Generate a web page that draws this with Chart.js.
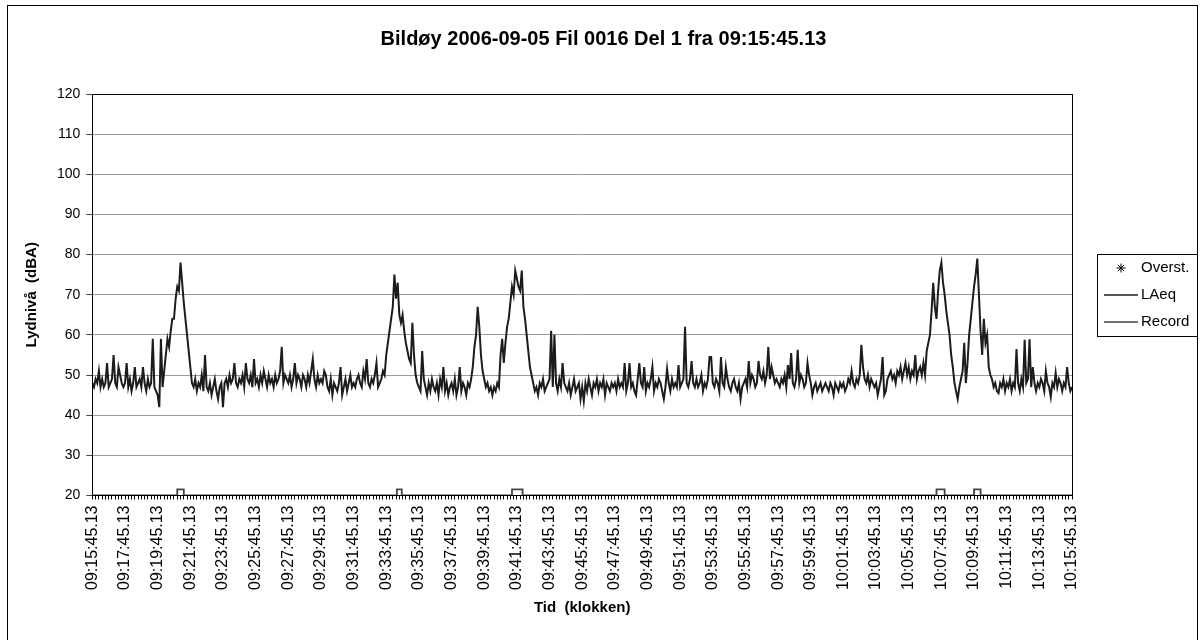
<!DOCTYPE html>
<html>
<head>
<meta charset="utf-8">
<script src="https://cdn.jsdelivr.net/npm/chart.js@4.4.0/dist/chart.umd.min.js"></script>
<style>
  html, body { margin: 0; padding: 0; background: #fff; }
  canvas { display: block; }
</style>
</head>
<body>
<canvas id="noiseChart" width="1202" height="640"></canvas>
<script>
const chartTitle = 'Bildøy 2006-09-05 Fil 0016 Del 1 fra 09:15:45.13';
const sampleStep = 6; // sekunder mellom LAeq-verdier

const timeLabels = [
    '09:15:45.13', '09:17:45.13', '09:19:45.13', '09:21:45.13', '09:23:45.13', '09:25:45.13',
    '09:27:45.13', '09:29:45.13', '09:31:45.13', '09:33:45.13', '09:35:45.13', '09:37:45.13',
    '09:39:45.13', '09:41:45.13', '09:43:45.13', '09:45:45.13', '09:47:45.13', '09:49:45.13',
    '09:51:45.13', '09:53:45.13', '09:55:45.13', '09:57:45.13', '09:59:45.13', '10:01:45.13',
    '10:03:45.13', '10:05:45.13', '10:07:45.13', '10:09:45.13', '10:11:45.13', '10:13:45.13',
    '10:15:45.13'
];

// LAeq, en verdi per 6 s (en rad per minutt)
const laeq = [
    48, 47, 49, 48, 51, 47, 49, 47, 48, 53,
    47, 48, 49, 55, 48, 47, 52, 50, 48, 47,
    48, 53, 47, 49, 46, 48, 52, 47, 48, 49,
    47, 52, 48, 46, 49, 47, 48, 59, 47, 46,
    45, 42, 59, 47, 51, 55, 59, 57, 61, 64,
    64, 69, 72, 71, 78, 73, 68, 64, 60, 56,
    52, 48, 47, 49, 46, 48, 47, 50, 46, 55,
    47, 46, 48, 45, 47, 49, 46, 44, 47, 48,
    42, 48, 49, 47, 50, 48, 49, 53, 48, 47,
    49, 48, 50, 47, 53, 49, 48, 50, 47, 54,
    48, 49, 47, 50, 48, 51, 49, 47, 50, 48,
    49, 47, 50, 48, 49, 51, 57, 48, 50, 49,
    48, 50, 47, 49, 53, 48, 50, 49, 47, 50,
    49, 47, 50, 48, 51, 54, 49, 47, 50, 48,
    49, 48, 51, 50, 47, 46, 49, 45, 48, 47,
    46, 48, 52, 45, 47, 49, 46, 48, 50, 47,
    48, 47, 49, 50, 48, 47, 51, 49, 54, 48,
    47, 49, 48, 50, 53, 47, 48, 49, 51, 50,
    55, 58, 61, 64, 67, 75, 69, 73, 65, 63,
    65, 61, 58, 56, 54, 53, 63, 55, 50, 48,
    47, 46, 56, 49, 47, 45, 48, 46, 49, 47,
    46, 48, 45, 49, 47, 52, 46, 48, 45, 47,
    48, 46, 49, 45, 47, 52, 46, 48, 47, 45,
    48, 47, 49, 52, 57, 60, 67, 62, 55, 51,
    49, 47, 48, 46, 47, 45, 47, 46, 48, 47,
    55, 59, 53, 58, 62, 64, 68, 72, 70, 76,
    74, 72, 71, 76, 67, 64, 60, 56, 52, 50,
    48, 46, 47, 45, 48, 47, 49, 46, 47, 48,
    49, 61, 47, 60, 48, 46, 49, 47, 53, 48,
    47, 46, 48, 45, 47, 49, 46, 47, 48, 44,
    47, 43.5, 48, 46, 49, 47, 45, 48, 47, 49,
    46, 48, 47, 49, 45, 48, 47, 46, 48, 47,
    48, 46, 49, 47, 48, 47, 53, 46, 48, 53,
    47, 48, 46, 45, 49, 53, 48, 47, 52, 46,
    48, 47, 49, 52, 46, 48, 47, 49, 48, 46,
    44, 47, 51.5, 48, 46, 49, 47, 48, 47, 52.5,
    47, 48, 49, 62, 48, 47, 49, 53.5, 48, 47,
    49, 47, 48, 50, 46, 48, 47, 49, 54.5, 54.5,
    48, 47, 49, 48, 46, 54.5, 48, 47, 52, 49,
    47, 46, 48, 49, 47, 46, 48, 44, 47, 48,
    49, 47, 53.5, 48, 50, 49, 47, 48, 53.5, 50,
    49, 51, 48, 50, 57, 49, 52, 50, 48, 49,
    48, 47, 49, 48, 50, 47, 52.5, 49, 55.5, 48,
    47, 49, 56.3, 48, 50, 49, 47, 48, 53, 50,
    48, 45, 47, 48, 46, 47, 48, 46, 47, 48,
    47, 46, 48, 47, 45, 48, 47, 46, 48, 47,
    48, 46, 47, 49, 48, 51, 48, 47, 49, 48,
    50, 57.5, 52, 49, 48, 50, 47, 49, 48, 47,
    48, 45, 47, 49, 54.5, 45, 46, 49, 50, 51,
    49, 50, 48, 51, 50, 52, 49, 51, 53, 50,
    52, 49, 51, 50, 55, 49, 51, 52, 50, 53,
    50, 56, 58, 60, 66, 73, 67, 64, 71, 76,
    78, 73, 70, 66, 63, 60, 55, 52, 48, 46,
    44, 47, 49, 51, 58, 48, 53, 60, 64, 68,
    72, 75, 79, 70, 61, 55, 64, 58, 60, 52,
    50, 49, 47, 48, 46, 45.5, 48, 47, 49, 46,
    48, 47, 49, 46, 48, 47, 56.5, 48, 46, 49,
    47, 58.8, 48, 49, 58.9, 47, 52, 48, 46, 48,
    47, 49, 48, 46, 51, 48, 47, 44.5, 48, 47,
    50.5, 47, 49, 48, 46, 48, 47, 52, 48, 46,
    47
];

// Record-pulser (sekunder fra start)
const recordStart = [312, 1119, 1542, 3102, 3240];
const recordEnd = [336, 1137, 1581, 3132, 3264];
const recordLow = 20;
const recordHigh = 21.5;

const overst = [];

const laeqPoints = laeq.map((v, i) => ({ x: i * sampleStep, y: v }));

const recordPoints = [{ x: 0, y: recordLow }];
recordStart.forEach((s, i) => {
    recordPoints.push(
        { x: s, y: recordLow },
        { x: s, y: recordHigh },
        { x: recordEnd[i], y: recordHigh },
        { x: recordEnd[i], y: recordLow }
    );
});
recordPoints.push({ x: 3600, y: recordLow });

const fontFamily = "'Liberation Sans', Arial, sans-serif";
Chart.defaults.font.family = fontFamily;
Chart.defaults.color = '#000';

const framePlugin = {
    id: 'frame',
    beforeDraw(chart) {
        const c = chart.ctx;
        c.save();
        c.fillStyle = '#fff';
        c.fillRect(0, 0, chart.width, chart.height);
        c.strokeStyle = '#000';
        c.lineWidth = 1;
        c.strokeRect(7.5, 5.5, 1190, 640);
        c.restore();
    },
    afterDatasetsDraw(chart) {
        const a = chart.chartArea;
        const c = chart.ctx;
        c.save();
        c.strokeStyle = '#000';
        c.lineWidth = 1;
        c.strokeRect(Math.round(a.left) + 0.5, Math.round(a.top) + 0.5,
            Math.round(a.right - a.left), Math.round(a.bottom - a.top));
        c.restore();
    }
};

const legendPlugin = {
    id: 'boxLegend',
    afterDraw(chart) {
        const c = chart.ctx;
        const items = chart.data.datasets;
        const left = 1097.5, top = 254.5;
        c.save();
        c.strokeStyle = '#000';
        c.lineWidth = 1;
        c.strokeRect(left, top, 100, 82);
        c.font = '15px ' + fontFamily;
        c.textBaseline = 'middle';
        c.fillStyle = '#000';
        items.forEach((ds, i) => {
            const y = 268 + i * 27;
            if (ds.pointStyle === 'star') {
                Chart.helpers.drawPoint(c, { pointStyle: 'star', radius: 4.5, borderWidth: 1.2 }, 1121, y);
            } else {
                c.strokeStyle = ds.borderColor;
                c.lineWidth = 1.5;
                c.beginPath();
                c.moveTo(1104, y);
                c.lineTo(1138, y);
                c.stroke();
            }
            c.fillText(ds.label, 1141, y);
        });
        c.restore();
    }
};

new Chart(document.getElementById('noiseChart'), {
    type: 'line',
    data: {
        datasets: [{
            label: 'Overst.',
            data: overst,
            pointStyle: 'star',
            borderColor: '#333',
            showLine: false,
            pointRadius: 4
        }, {
            label: 'LAeq',
            data: laeqPoints,
            borderColor: '#1c1c1c',
            borderWidth: 2,
            pointRadius: 0,
            tension: 0,
            fill: false
        }, {
            label: 'Record',
            data: recordPoints,
            borderColor: '#444',
            borderWidth: 1.8,
            pointRadius: 0,
            tension: 0,
            fill: false
        }]
    },
    options: {
        responsive: false,
        animation: false,
        layout: { padding: { left: 10, right: 5, top: 5, bottom: 10 } },
        plugins: {
            legend: { display: false },
            tooltip: { enabled: false },
            title: {
                display: true,
                text: chartTitle,
                color: '#000',
                font: { size: 20, weight: 'bold' },
                padding: { top: 22, bottom: 43 }
            }
        },
        scales: {
            x: {
                type: 'linear',
                min: 0,
                max: 3600,
                grid: { drawOnChartArea: false, drawTicks: true, tickLength: 4, color: '#000' },
                border: { color: '#000', width: 1 },
                ticks: {
                    stepSize: 12,
                    autoSkip: false,
                    minRotation: 90,
                    maxRotation: 90,
                    padding: 6,
                    color: '#000',
                    font: { size: 16 },
                    callback: function (value) {
                        return value % 120 === 0 ? timeLabels[value / 120] : '';
                    }
                },
                title: {
                    display: true,
                    text: 'Tid  (klokken)',
                    color: '#000',
                    font: { size: 15, weight: 'bold' },
                    padding: { top: 3, bottom: 13 }
                }
            },
            y: {
                min: 20,
                max: 120,
                grid: { color: '#9a9a9a', tickColor: '#444', tickLength: 6 },
                border: { color: '#000', width: 1 },
                ticks: { stepSize: 10, padding: 6, color: '#000', font: { size: 14 } },
                title: {
                    display: true,
                    text: 'Lydnivå  (dBA)',
                    color: '#000',
                    font: { size: 15, weight: 'bold' },
                    padding: { top: 13, bottom: 10 }
                }
            },
            legendSpace: {
                position: 'right',
                grid: { display: false },
                border: { display: false },
                ticks: { display: false },
                afterFit: function (scale) {
                    scale.width = 125;
                }
            }
        }
    },
    plugins: [framePlugin, legendPlugin]
});
</script>
</body>
</html>
